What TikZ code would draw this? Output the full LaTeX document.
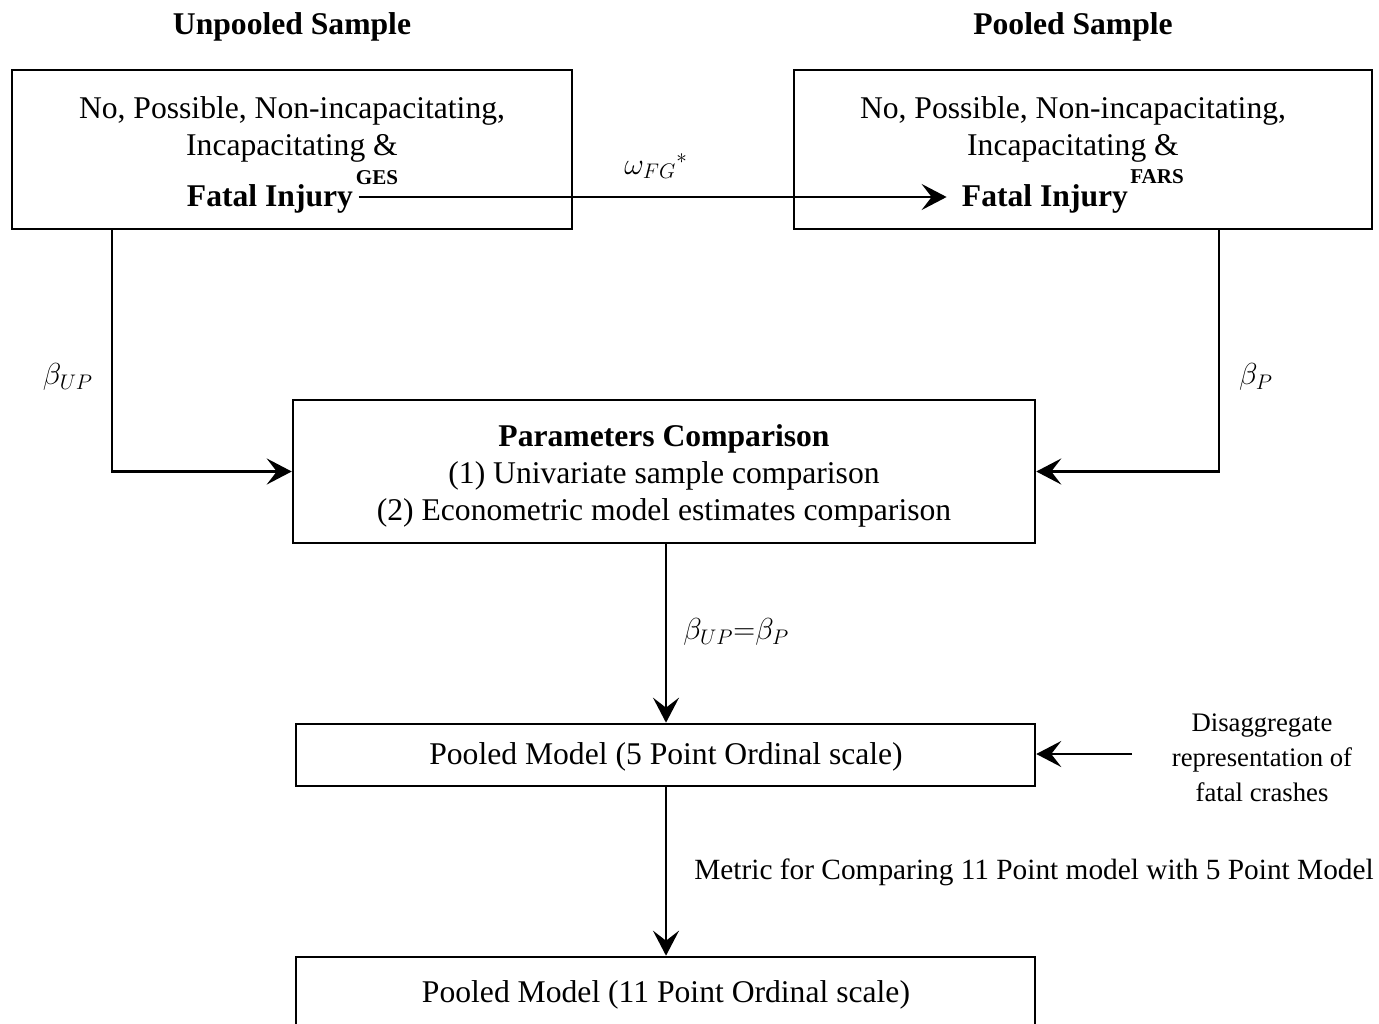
\documentclass[tikz,border=0pt]{standalone}
\usepackage{fontspec}
\setmainfont{Liberation Serif}
\usetikzlibrary{arrows.meta}
\begin{document}
\begin{tikzpicture}[x=0.02cm,y=-0.02cm,
  every node/.style={font=\fontsize{18}{21}\selectfont, inner sep=0pt},
  box/.style={draw, line width=1.5pt, align=center},
  arr/.style={line width=1.6pt, -{Stealth[length=0.5cm,width=0.52cm,inset=0.2cm]}},
  lbl/.style={font=\fontsize{17}{21}\selectfont},
  sup/.style={font=\fontsize{12}{14}\selectfont\bfseries}]
\clip (0,0) rectangle (1379,1024);
% titles
\node[font=\fontsize{18}{21}\selectfont\bfseries] (t1) at (292,27) {Unpooled Sample};
\node[font=\fontsize{18}{21}\selectfont\bfseries] (t2) at (1073,27) {Pooled Sample};
% top boxes
\node[box, minimum width=11.2cm, minimum height=3.18cm] (ul) at (292,149.5) {};
\node[box, minimum width=11.56cm, minimum height=3.18cm] (ur) at (1083,149.5) {};
\node[align=center] (ultxt) at (292,129) {No, Possible, Non-incapacitating,\\Incapacitating \&};
\node[align=center] (urtxt) at (1073,129) {No, Possible, Non-incapacitating,\\Incapacitating \&};
\node[font=\fontsize{18}{21}\selectfont\bfseries] (fiL) at (270,199) {Fatal Injury};
\node[sup] (ges) at (377,178) {GES};
\node[font=\fontsize{18}{21}\selectfont\bfseries] (fiR) at (1045,199) {Fatal Injury};
\node[sup] (fars) at (1157,177) {FARS};
\coordinate (harr) at (0,197);
\draw[arr, shorten >=0.3cm] (fiL.east |- harr) ++(3pt,0) -- (fiR.west |- harr);
\node[lbl] (omega) at (656,166) {$\omega_{FG}{}^{*}$};
% middle box
\node[box, minimum width=14.84cm, minimum height=2.86cm] (mid) at (664,471.5) {};
\node[align=center] (midtxt) at (664,476)
  {\textbf{Parameters Comparison}\\ (1)\ Univariate sample comparison\\ (2)\ Econometric model estimates comparison};
\coordinate (lx) at (112,0);
\coordinate (rx) at (1219,0);
\coordinate (cx) at (666,0);
\draw[arr] (ul.south -| lx) |- (mid.west);
\draw[arr] (ur.south -| rx) |- (mid.east);
\node[lbl] (bup) at (68,377) {$\beta_{UP}$};
\node[lbl] (bp) at (1256,377) {$\beta_{P}$};
% pooled 5
\node[box, minimum width=14.78cm, minimum height=1.24cm] (p5) at (665.5,755) {};
\node (p5txt) at (666,757) {Pooled Model (5 Point Ordinal scale)};
\draw[arr] (mid.south -| cx) -- (p5.north -| cx);
\node[lbl, anchor=west] (eq) at (683,632) {$\beta_{UP}{=}\beta_{P}$};
\node[align=center, font=\fontsize{15.2}{19.8}\selectfont] (dis) at (1262,758) {Disaggregate\\representation of\\fatal crashes};
\coordinate (dstart) at (1132,754);
\draw[arr] (dstart) -- (p5.east |- dstart);
% pooled 11
\node[box, minimum width=14.78cm, minimum height=1.46cm] (p11) at (665.5,993.5) {};
\node (p11txt) at (666,995) {Pooled Model (11 Point Ordinal scale)};
\draw[arr] (p5.south -| cx) -- (p11.north -| cx);
\node[anchor=west, font=\fontsize{16.7}{20}\selectfont] (metric) at (694,872) {Metric for Comparing 11 Point model with 5 Point Model};
\end{tikzpicture}
\end{document}
